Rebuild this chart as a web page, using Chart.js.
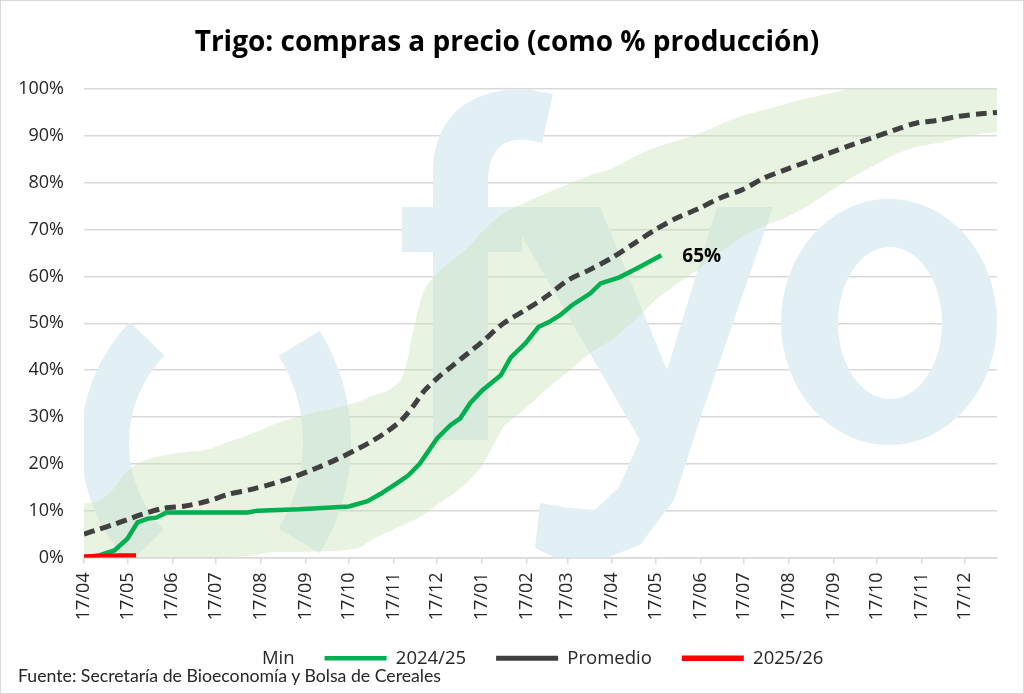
<html>
<head>
<meta charset="utf-8">
<title>Trigo: compras a precio</title>
<style>
  body { margin: 0; background: #fff; }
  #wrap { position: relative; width: 1024px; height: 694px; box-sizing: border-box; border: 1px solid #d9d9d9; }
  #fuente { position: absolute; left: 17px; top: 664px; font: 17.7px Lato, sans-serif; color: #262626; }
</style>
</head>
<body>
<div id="wrap">
  <canvas id="myChart"></canvas>
  <div id="fuente">Fuente: Secretaría de Bioeconomía y Bolsa de Cereales</div>
</div>
<script src="https://cdn.jsdelivr.net/npm/chart.js@4.4.1/dist/chart.umd.min.js"></script>
<script>
// x axis = days since 17/04 (marketing year start)
var monthDays = [0, 30, 61, 91, 122, 153, 183, 214, 244, 275, 306, 334, 365, 395, 426, 456, 487, 518, 548, 579, 609];
var monthLabels = ['17/04', '17/05', '17/06', '17/07', '17/08', '17/09', '17/10', '17/11', '17/12', '17/01',
                   '17/02', '17/03', '17/04', '17/05', '17/06', '17/07', '17/08', '17/09', '17/10', '17/11', '17/12'];
var lastDay = 631;

// min / max band and average (% of production)
var bandDays = [0, 10, 20, 30, 40, 55, 70, 85, 100, 115, 130, 145, 160, 175, 190, 200, 210, 220, 228, 235,
                245, 255, 265, 275, 290, 305, 320, 335, 350, 365, 380, 395, 410, 425, 440, 455, 470, 485,
                500, 515, 530, 545, 560, 575, 590, 605, 620, 631];
var maxVals = [11.5, 12, 14.5, 18.5, 20.5, 21.8, 22.5, 23, 24.7, 26.3, 28.3, 29.8, 31, 32, 33.3, 34.6, 35.6, 38.5, 49, 57,
               61, 63.5, 66, 69.5, 73.5, 75.8, 77.8, 79.8, 81.6, 83.1, 85.5, 87.5, 89, 90.5, 92.5, 94.3, 95.5, 96.8,
               98, 99, 100, 100, 100, 100, 100, 100, 100, 100];
var minVals = [0, 0, 0, 0, 0, 0, 0, 0, 0, 0.3, 1.2, 1.2, 1.3, 1.4, 2, 4, 5.5, 6.8, 8, 9.2,
               11.5, 13.5, 16, 19.5, 28, 31.8, 36, 39.8, 43.7, 46.5, 50.5, 55, 58.5, 61.5, 65.3, 68.5, 70.8, 72.5,
               75, 78, 81, 83.5, 86, 87.7, 88.5, 89.5, 90.5, 90.8];
var avgVals = [5, 6, 7, 8.1, 9.2, 10.5, 11, 12, 13.5, 14.5, 15.7, 17.2, 19, 21, 23.3, 25, 27, 29.5, 32.5, 35.5,
               38.5, 41, 43.5, 46, 50, 52.8, 55.8, 59.3, 61.5, 64, 67, 70, 72.5, 74.5, 76.8, 78.5, 81, 82.8,
               84.5, 86.3, 88, 89.6, 91.2, 92.7, 93.3, 94.2, 94.7, 95];

// campaign 2024/25
var greenDays = [0, 11, 21, 30, 37, 44, 50, 57, 85, 113, 120, 149, 183, 196, 205, 214, 224, 232, 244, 253,
                 260, 267, 275, 288, 295, 305, 314, 321, 329, 337, 350, 357, 370, 384, 399];
var greenVals = [0, 0.5, 1.5, 4, 7.5, 8.3, 8.5, 9.6, 9.6, 9.6, 10, 10.3, 10.9, 12, 13.6, 15.4, 17.5, 20, 25.4, 28.2,
                 29.7, 33, 35.6, 38.9, 42.7, 45.7, 49.2, 50.2, 51.7, 53.8, 56.4, 58.5, 59.8, 62, 64.5];

// campaign 2025/26
var redDays = [0, 12, 24, 36];
var redVals = [0.1, 0.2, 0.3, 0.3];

function pts(xs, ys) {
  return xs.map(function (x, i) { return { x: x, y: ys[i] }; });
}

// fyo watermark behind the series (pure decoration)
var watermark = {
  id: 'watermark',
  beforeDatasetsDraw: function (chart) {
    var ctx = chart.ctx, a = chart.chartArea;
    ctx.save();
    ctx.beginPath();
    ctx.rect(a.left, a.top, a.right - a.left, a.bottom - a.top);
    ctx.clip();
    ctx.translate(-1, -1);
    ctx.fillStyle = ctx.strokeStyle = '#e2f0f6';
    ctx.lineWidth = 48;
    ctx.beginPath();
    ctx.arc(255, 443, 150, 2.38, 3.91);
    ctx.stroke();
    ctx.beginPath();
    ctx.arc(138, 442, 189, -0.55, 0.55);
    ctx.stroke();
    // f
    ctx.beginPath();
    ctx.moveTo(433, 440);
    ctx.lineTo(433, 175);
    ctx.bezierCurveTo(433, 115, 470, 89, 525, 89);
    ctx.lineTo(553, 94);
    ctx.lineTo(542, 143);
    ctx.bezierCurveTo(502, 132, 488, 150, 488, 185);
    ctx.lineTo(488, 440);
    ctx.closePath();
    ctx.fill();
    ctx.fillRect(402, 207, 120, 45);
    // y
    ctx.beginPath();
    [[505, 207], [600, 207], [667, 370], [717, 207], [773, 207], [702, 413], [674, 500], [640, 545],
     [601, 560], [560, 560], [535, 548], [540, 503], [570, 508], [595, 510], [619, 487], [640, 440]]
      .forEach(function (p, i) { if (i) ctx.lineTo(p[0], p[1]); else ctx.moveTo(p[0], p[1]); });
    ctx.closePath();
    ctx.fill();
    // o
    ctx.beginPath();
    ctx.ellipse(889, 322, 108, 123, 0, 0, Math.PI * 2);
    ctx.ellipse(890, 323, 52, 76, 0, 0, Math.PI * 2);
    ctx.fill('evenodd');
    ctx.restore();
  }
};

// "65%" tag at the end of the 2024/25 line
var endLabel = {
  id: 'endLabel',
  afterDatasetsDraw: function (chart) {
    var ctx = chart.ctx;
    var i = greenDays.length - 1;
    var x = chart.scales.x.getPixelForValue(greenDays[i]);
    var y = chart.scales.y.getPixelForValue(greenVals[i]);
    ctx.save();
    ctx.font = 'bold 19px "Open Sans"';
    ctx.fillStyle = '#000';
    ctx.textBaseline = 'middle';
    ctx.fillText(Math.round(greenVals[i]) + '%', x + 21, y + 1);
    ctx.restore();
  }
};

var ctx = document.getElementById('myChart').getContext('2d');
var chart = new Chart(ctx, {
  type: 'line',
  data: {
    datasets: [
      { label: 'Min', data: pts(bandDays, minVals), borderWidth: 0, pointRadius: 0, fill: false, order: 3,
        borderColor: 'rgba(0,0,0,0)' },
      { label: 'Max', data: pts(bandDays, maxVals), borderWidth: 0, pointRadius: 0, fill: 0, order: 4,
        borderColor: 'rgba(0,0,0,0)', backgroundColor: 'rgba(200,225,180,0.4)', tension: 0.3 },
      { label: '2024/25', data: pts(greenDays, greenVals), borderColor: '#00b050', borderWidth: 4.5,
        pointRadius: 0, fill: false, order: 1 },
      { label: 'Promedio', data: pts(bandDays, avgVals), borderColor: '#404040', borderWidth: 5,
        borderDash: [11, 6], pointRadius: 0, fill: false, order: 2, tension: 0.3 },
      { label: '2025/26', data: pts(redDays, redVals), borderColor: '#ff0000', borderWidth: 5.5,
        pointRadius: 0, fill: false, order: 0 }
    ]
  },
  options: {
    responsive: true,
    maintainAspectRatio: false,
    animation: false,
    layout: { padding: { left: 16, right: 26, top: 0, bottom: 15.5 } },
    plugins: {
      title: {
        display: true,
        text: 'Trigo: compras a precio (como % producción)',
        font: { family: 'Open Sans', size: 28, weight: 'bold' },
        color: '#000',
        padding: { top: 25, bottom: 29.4 }
      },
      legend: {
        position: 'bottom',
        labels: {
          usePointStyle: true,
          pointStyle: 'line',
          pointStyleWidth: 62,
          padding: 30,
          color: '#262626',
          font: { family: 'Open Sans', size: 18.5 },
          filter: function (item) { return item.text !== 'Max'; },
          sort: function (a, b) { return a.datasetIndex - b.datasetIndex; },
          generateLabels: function (chart) {
            var items = Chart.defaults.plugins.legend.labels.generateLabels(chart);
            items.forEach(function (it) {
              if (it.text === 'Min') { it.strokeStyle = 'rgba(0,0,0,0)'; it.fillStyle = 'rgba(0,0,0,0)'; }
            });
            return items;
          }
        }
      },
      tooltip: { enabled: false }
    },
    scales: {
      x: {
        type: 'linear',
        min: 0,
        max: lastDay,
        afterBuildTicks: function (axis) {
          axis.ticks = monthDays.map(function (d) { return { value: d }; });
        },
        afterFit: function (axis) { axis.height = 61.5; },
        ticks: {
          autoSkip: false,
          minRotation: 90,
          maxRotation: 90,
          padding: 9,
          color: '#262626',
          font: { family: 'Open Sans', size: 18 },
          callback: function (v, i) { return monthLabels[i]; }
        },
        grid: { drawOnChartArea: false, drawTicks: true, tickLength: 6, color: '#d9d9d9', lineWidth: 1.5 },
        border: { color: '#d9d9d9', width: 1.5 }
      },
      y: {
        min: 0,
        max: 100,
        afterFit: function (axis) { axis.width = 67; },
        ticks: {
          stepSize: 10,
          padding: 20,
          color: '#262626',
          font: { family: 'Open Sans', size: 18 },
          callback: function (v) { return v + '%'; }
        },
        grid: { color: '#d9d9d9', lineWidth: 1.5, drawTicks: false },
        border: { display: false }
      }
    }
  },
  plugins: [watermark, endLabel]
});
</script>
</body>
</html>
